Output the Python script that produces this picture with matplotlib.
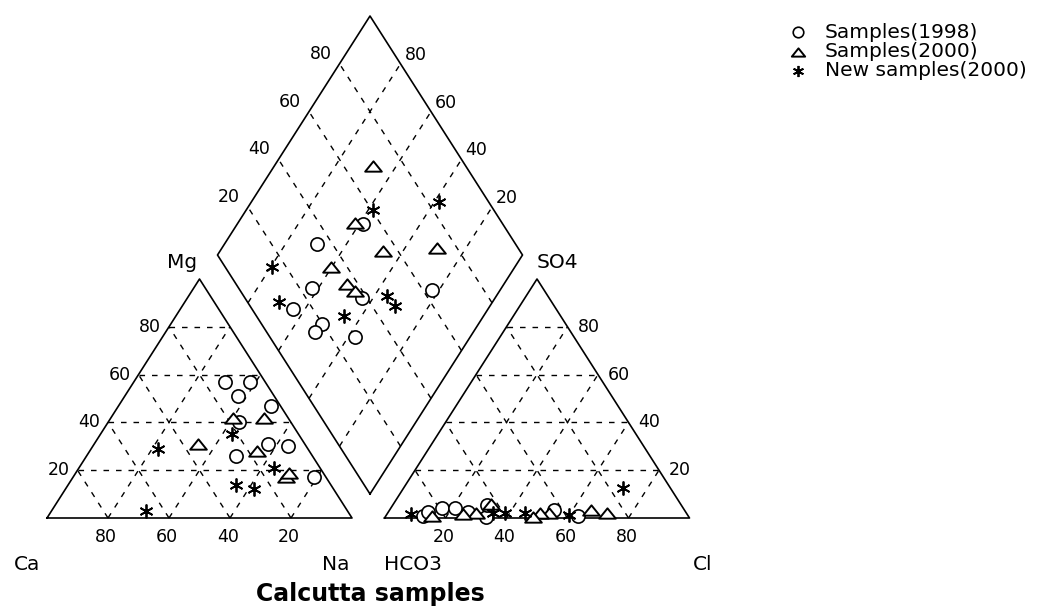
import numpy as np
import matplotlib.pyplot as plt
from matplotlib.path import Path

# --- data (percent) -------------------------------------------------------
# cation triangle: Mg and Na (Ca is the rest)
cat_mg_1998 = [57, 57, 51, 47, 40, 26, 31, 30, 17]
cat_na_1998 = [30, 38, 37, 50, 43, 49, 57, 64, 79]
cat_mg_2000 = [31, 42, 42, 28, 17, 19]
cat_na_2000 = [34, 40, 50, 55, 70, 70]
cat_mg_new = [29, 3, 35, 14, 12, 21]
cat_na_new = [22, 31, 43, 55, 62, 64]

# anion triangle: SO4 and Cl (HCO3 is the rest)
an_so4_1998 = [1, 2.5, 4, 4, 2.5, 0.5, 5.5, 3.3, 1]
an_cl_1998 = [12, 13, 17, 21, 26, 33, 31, 54, 63]
an_so4_2000 = [6, 2, 2, 3.3, 2, 2, 1, 1.5, 0.5]
an_cl_2000 = [32, 29, 53, 66, 72, 50, 15, 25, 48.5]
an_so4_new = [1.7, 2, 2, 1.2, 12.4, 2]
an_cl_new = [8, 34.5, 45, 60, 72, 38.5]

# diamond: Ca+Mg and SO4+Cl
dia_camg_1998 = [58.6, 69.7, 62.3, 43.8, 22.4, 63.8, 51.4, 51.9, 37.7]
dia_so4cl_1998 = [54.2, 34.7, 24.1, 38.4, 62.9, 13.5, 19.7, 15.8, 27.9]
dia_camg_2000 = [67.5, 61.6, 46.5, 29.7, 60.5, 51.5, 47.4]
dia_so4cl_2000 = [69.6, 51.8, 55.2, 73.4, 34.6, 36.2, 37.6]
dia_camg_new = [58.4, 38.4, 79.4, 70, 45.8, 36, 31.2]
dia_so4cl_new = [60.6, 83.7, 15.4, 10.4, 28.8, 47, 47.6]

series_names = ['Samples(1998)', 'Samples(2000)', 'New samples(2000)']
grid_vals = [20, 40, 60, 80]

# --- layout (pixel units of the canvas) ------------------------------------
side = 305.0
tri_h = 239.0
cat_origin = (47.0, 518.0)    # Ca corner
an_origin = (384.5, 518.0)    # HCO3 corner
dia_bottom = (370.0, 494.0)


def tern(origin, right, top):
    right = np.asarray(right, float) / 100
    top = np.asarray(top, float) / 100
    return origin[0] + (right + top / 2) * side, origin[1] - top * tri_h


def dia(camg, so4cl):
    u = np.asarray(camg, float) / 100
    v = np.asarray(so4cl, float) / 100
    return dia_bottom[0] + (v - u) * side / 2, dia_bottom[1] - (u + v) * tri_h


tri_marker = Path([(-1, -0.62), (1, -0.62), (0, 0.62), (-1, -0.62)],
                  [Path.MOVETO, Path.LINETO, Path.LINETO, Path.CLOSEPOLY])
styles = [
    dict(marker='o', ms=9.5, mfc='white', mec='black', mew=1.2, ls='none'),
    dict(marker=tri_marker, ms=12, mfc='white', mec='black', mew=1.4, ls='none'),
    dict(marker=(6, 2, 0), ms=10, mec='black', mew=1.3, ls='none'),
]

fig = plt.figure(figsize=(10.44, 6.12), dpi=100)
ax = fig.add_axes([0, 0, 1, 1])
ax.set_xlim(0, 1044)
ax.set_ylim(612, 0)
ax.axis('off')

dash = dict(color='black', lw=1.0, ls=(0, (4, 5)))
solid = dict(color='black', lw=1.2)

# triangles
for org in (cat_origin, an_origin):
    xs, ys = tern(org, [0, 100, 0, 0], [0, 0, 100, 0])
    ax.plot(xs, ys, **solid)
    for k in grid_vals:
        # horizontal (top component = k)
        xs, ys = tern(org, [0, 100 - k], [k, k])
        ax.plot(xs, ys, **dash)
        # right component = k
        xs, ys = tern(org, [k, k], [0, 100 - k])
        ax.plot(xs, ys, **dash)
        # left component = k
        xs, ys = tern(org, [100 - k, 0], [0, 100 - k])
        ax.plot(xs, ys, **dash)

# diamond
xs, ys = dia([0, 100, 100, 0, 0], [0, 0, 100, 100, 0])
ax.plot(xs, ys, **solid)
for k in grid_vals:
    xs, ys = dia([k, k], [0, 100])
    ax.plot(xs, ys, **dash)
    xs, ys = dia([0, 100], [k, k])
    ax.plot(xs, ys, **dash)

# tick labels
tfs = 12.5
for k in grid_vals:
    x, y = tern(cat_origin, 100 - k, 0)
    ax.text(x - 2, y + 19, str(k), ha='center', va='center', fontsize=tfs)
    x, y = tern(cat_origin, 0, k)
    ax.text(x - 8, y, str(k), ha='right', va='center', fontsize=tfs)
    x, y = tern(an_origin, k, 0)
    ax.text(x - 2, y + 19, str(k), ha='center', va='center', fontsize=tfs)
    x, y = tern(an_origin, 100 - k, k)
    ax.text(x + 10, y, str(k), ha='left', va='center', fontsize=tfs)
    x, y = dia(100, k)
    ax.text(x - 8, y - 10, str(k), ha='right', va='center', fontsize=tfs)
    x, y = dia(k, 100)
    ax.text(x + 4, y - 9, str(k), ha='left', va='center', fontsize=tfs)

# corner labels
lfs = 14.5
x, y = tern(cat_origin, 0, 0)
ax.text(x - 20, y + 46, 'Ca', ha='center', va='center', fontsize=lfs)
x, y = tern(cat_origin, 100, 0)
ax.text(x - 2, y + 46, 'Na', ha='right', va='center', fontsize=lfs)
x, y = tern(cat_origin, 0, 100)
ax.text(x - 2, y - 17, 'Mg', ha='right', va='center', fontsize=lfs)
x, y = tern(an_origin, 0, 0)
ax.text(x, y + 46, 'HCO3', ha='left', va='center', fontsize=lfs)
x, y = tern(an_origin, 100, 0)
ax.text(x + 3, y + 46, 'Cl', ha='left', va='center', fontsize=lfs)
x, y = tern(an_origin, 0, 100)
ax.text(x, y - 17, 'SO4', ha='left', va='center', fontsize=lfs)

# samples
cat_data = [(cat_na_1998, cat_mg_1998), (cat_na_2000, cat_mg_2000), (cat_na_new, cat_mg_new)]
an_data = [(an_cl_1998, an_so4_1998), (an_cl_2000, an_so4_2000), (an_cl_new, an_so4_new)]
dia_data = [(dia_camg_1998, dia_so4cl_1998), (dia_camg_2000, dia_so4cl_2000),
            (dia_camg_new, dia_so4cl_new)]
for st, c, a, d in zip(styles, cat_data, an_data, dia_data):
    ax.plot(*tern(cat_origin, *c), **st)
    ax.plot(*tern(an_origin, *a), **st)
    ax.plot(*dia(*d), **st)

# legend
leg_x, leg_y, leg_dy = 798, 32, 19.5
for i, (name, st) in enumerate(zip(series_names, styles)):
    s = dict(st)
    s['ms'] = st['ms'] * 0.8
    ax.plot([leg_x], [leg_y + i * leg_dy], **s)
    ax.text(leg_x + 27, leg_y + i * leg_dy, name, ha='left', va='center', fontsize=14.5)

ax.text(dia_bottom[0], 594, 'Calcutta samples', ha='center', va='center',
        fontsize=17, fontweight='bold')

fig.savefig('out.png', dpi=100)
